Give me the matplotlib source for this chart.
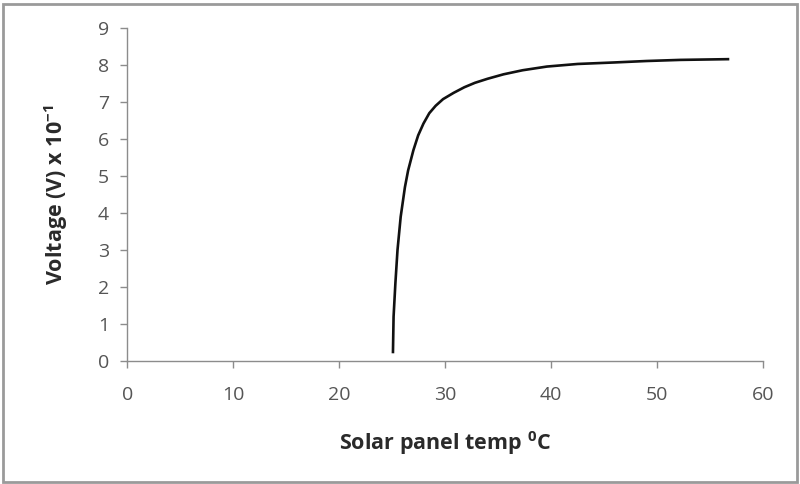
import matplotlib
matplotlib.use("Agg")
import matplotlib.pyplot as plt
from matplotlib.patches import Rectangle

temp = [25.07, 25.13, 25.3, 25.5, 25.8, 26.2, 26.5, 27.0, 27.45, 27.95, 28.5, 29.1,
        29.8, 30.8, 31.8, 32.8, 34.0, 35.5, 37.3, 39.6, 42.5, 45.9, 49.0, 52.2, 54.5, 56.8]
voltage = [0.21, 1.2, 2.1, 3.0, 3.9, 4.7, 5.15, 5.7, 6.1, 6.42, 6.7, 6.9,
           7.08, 7.25, 7.4, 7.52, 7.63, 7.75, 7.86, 7.96, 8.03, 8.07, 8.11, 8.14, 8.15, 8.16]
xticks = [0, 10, 20, 30, 40, 50, 60]
yticks = [0, 1, 2, 3, 4, 5, 6, 7, 8, 9]

plt.rcParams['font.family'] = ['Open Sans', 'DejaVu Sans']

fig = plt.figure(figsize=(8, 4.84), dpi=100)
ax = fig.add_axes([0.159, 0.254, 0.795, 0.688])

ax.plot(temp, voltage, color='#111111', lw=1.9, solid_capstyle='butt')

ax.set_xlim(0, 60)
ax.set_ylim(0, 9)
ax.set_xticks(xticks)
ax.set_yticks(yticks)

for s in ['top', 'right']:
    ax.spines[s].set_visible(False)
for s in ['left', 'bottom']:
    ax.spines[s].set_color('#8c8c8c')
    ax.spines[s].set_linewidth(1.0)

ax.tick_params(axis='both', direction='out', length=5, width=1.0, color='#8c8c8c',
               labelcolor='#555555', labelsize=14)
ax.tick_params(axis='x', pad=13)
ax.tick_params(axis='y', pad=8)

ax.set_xlabel(r'Solar panel temp $\mathregular{^{0}}$C', fontsize=15.5,
              fontweight='bold', color='#2a2a2a')
ax.set_ylabel(r'Voltage (V) x 10$\mathregular{^{-1}}$', fontsize=15.5,
              fontweight='bold', color='#2a2a2a')
ax.xaxis.set_label_coords(0.5, -0.205)
ax.yaxis.set_label_coords(-0.09, 0.5)

fig.patches.append(Rectangle((0.004, 0.004), 0.992, 0.988, transform=fig.transFigure,
                             fill=False, edgecolor='#9a9a9a', lw=2.0))

fig.savefig('out.png', dpi=100)
